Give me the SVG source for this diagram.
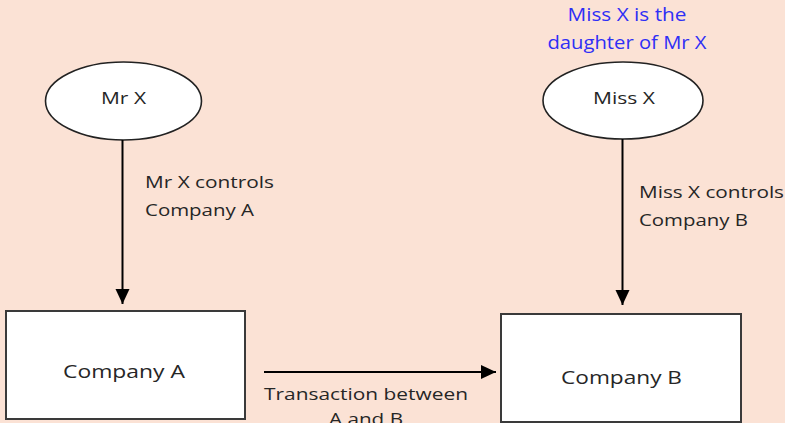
<svg xmlns="http://www.w3.org/2000/svg" width="785" height="423" viewBox="0 0 785 423">
  <style>
    .t { font-family: "Open Sans", "Liberation Sans", sans-serif; fill: #262626; }
    .lbl { font-size: 17px; }
    .box { fill: #ffffff; stroke: #3a3a3a; stroke-width: 2; }
    .ell { fill: #ffffff; stroke: #222222; stroke-width: 1.6; }
    .edge { stroke: #000000; stroke-width: 2; fill: none; marker-end: url(#arrow); }
    .note { font-family: "Open Sans", "Liberation Sans", sans-serif; fill: #2f2ff5; font-size: 18px; }
  </style>
  <defs>
    <marker id="arrow" markerUnits="userSpaceOnUse" markerWidth="16" markerHeight="16" viewBox="0 0 16 16" refX="15" refY="8" orient="auto">
      <path d="M0,1 L15,8 L0,15 Z" fill="#000000"/>
    </marker>
  </defs>
  <rect x="0" y="0" width="785" height="423" fill="#fbe2d5"/>

  <g id="note">
    <text class="note" x="627" y="21" text-anchor="middle" textLength="119" lengthAdjust="spacingAndGlyphs">Miss X is the</text>
    <text class="note" x="627" y="49" text-anchor="middle" textLength="159" lengthAdjust="spacingAndGlyphs">daughter of Mr X</text>
  </g>

  <g id="mr-x">
    <ellipse class="ell" cx="123.5" cy="101" rx="78" ry="39"/>
    <text class="t" x="123.5" y="104" font-size="16" text-anchor="middle" textLength="45" lengthAdjust="spacingAndGlyphs">Mr X</text>
  </g>

  <g id="miss-x">
    <ellipse class="ell" cx="623" cy="100.5" rx="80" ry="38.5"/>
    <text class="t" x="624" y="104" font-size="16" text-anchor="middle" textLength="62" lengthAdjust="spacingAndGlyphs">Miss X</text>
  </g>

  <g id="company-a">
    <rect class="box" x="6" y="311" width="239" height="108"/>
    <text class="t" x="124" y="378" font-size="19" text-anchor="middle" textLength="122" lengthAdjust="spacingAndGlyphs">Company A</text>
  </g>

  <g id="company-b">
    <rect class="box" x="501" y="314" width="240" height="108"/>
    <text class="t" x="621.5" y="384" font-size="19" text-anchor="middle" textLength="121" lengthAdjust="spacingAndGlyphs">Company B</text>
  </g>

  <g id="connectors">
    <line class="edge" x1="122.5" y1="140" x2="122.5" y2="304"/>
    <line class="edge" x1="622.5" y1="139" x2="622.5" y2="305"/>
    <line class="edge" x1="264" y1="372" x2="496" y2="372"/>
    <text class="t lbl" x="145" y="188" textLength="129" lengthAdjust="spacingAndGlyphs">Mr X controls</text>
    <text class="t lbl" x="145" y="216" textLength="109" lengthAdjust="spacingAndGlyphs">Company A</text>
    <text class="t lbl" x="639" y="198" textLength="145" lengthAdjust="spacingAndGlyphs">Miss X controls</text>
    <text class="t lbl" x="639" y="226" textLength="109" lengthAdjust="spacingAndGlyphs">Company B</text>
    <text class="t lbl" x="264" y="400" textLength="204" lengthAdjust="spacingAndGlyphs">Transaction between</text>
    <text class="t lbl" x="366" y="425" text-anchor="middle" textLength="74" lengthAdjust="spacingAndGlyphs">A and B</text>
  </g>
</svg>
